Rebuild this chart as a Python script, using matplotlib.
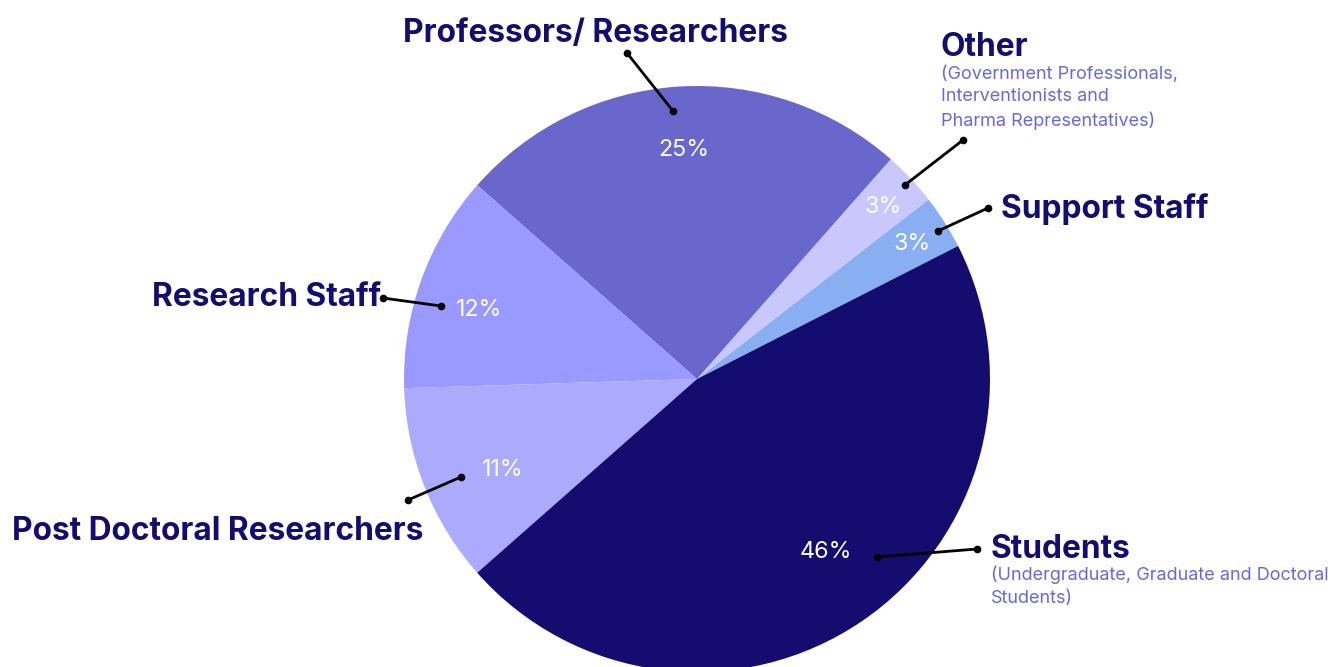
import matplotlib.pyplot as plt
import numpy as np

# ---- data ----
categories = ["Support Staff", "Other", "Professors/ Researchers", "Research Staff",
              "Post Doctoral Researchers", "Students"]
values = [3, 3, 25, 12, 11, 46]
pct_labels = ["3%", "3%", "25%", "12%", "11%", "46%"]
sublabels = ["", "(Government Professionals,\nInterventionists and\nPharma Representatives)",
             "", "", "", "(Undergraduate, Graduate and Doctoral\nStudents)"]
colors = ["#8aaef2", "#c9c8fc", "#6966cc", "#9a99ff", "#abaafc", "#140c6e"]

# ---- layout (pixel coordinates, y from top) ----
W, H = 1328, 667
CX, CY, R = 697, 379, 293
pct_pos = [(912, 244), (883, 207), (684, 150), (479, 310), (503, 470), (826, 552)]
# leader lines: (outer x, outer y, inner x, inner y)
leaders = [(988, 208, 938, 231), (963, 140, 905, 185), (627, 53, 673, 111),
           (383, 298, 441, 306), (408, 500, 461, 477), (977, 549, 877, 557)]
# label anchor: (x, y_center, ha)
label_pos = [(1001, 209, "left"), (941, 48, "left"), (595, 33, "center"),
             (381, 297, "right"), (12, 532, "left"), (991, 549, "left")]

navy = "#140c6e"
sub_color = "#6b68d6"

fig = plt.figure(figsize=(W / 100, H / 100), dpi=100)
ax = fig.add_axes([0, 0, 1, 1])

wedges, _ = ax.pie(values, colors=colors, startangle=27, counterclock=True,
                   radius=R, center=(CX, H - CY),
                   wedgeprops=dict(linewidth=0))
ax.set_xlim(0, W)
ax.set_ylim(0, H)
ax.set_aspect("auto")
ax.axis("off")

for pct, (px, py) in zip(pct_labels, pct_pos):
    ax.text(px, H - py, pct, color="white", fontsize=16.8, family="Inter",
            ha="center", va="center")

for (ox, oy, ix, iy) in leaders:
    ax.plot([ox, ix], [H - oy, H - iy], color="black", lw=2,
            marker="o", markersize=4.5, solid_capstyle="round")

for cat, sub, (lx, ly, ha) in zip(categories, sublabels, label_pos):
    ax.text(lx, H - ly, cat, color=navy, fontsize=22.8, fontweight="bold",
            family="Inter", ha=ha, va="center")
    if sub:
        ax.text(lx, H - ly - 17, sub, color=sub_color, fontsize=13,
                family="Inter", ha=ha, va="top", linespacing=1.45)

fig.savefig("out.png", dpi=100)
